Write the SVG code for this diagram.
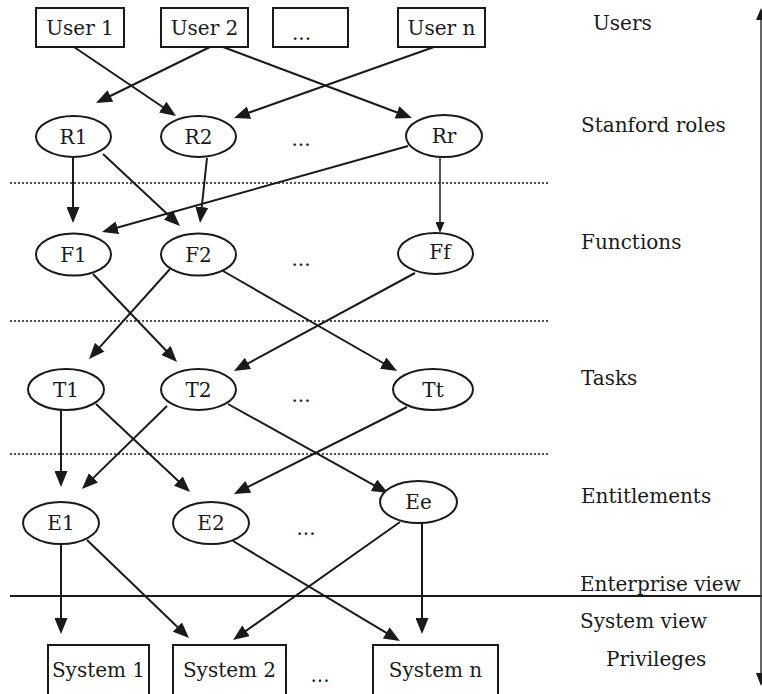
<svg xmlns="http://www.w3.org/2000/svg" width="762" height="694" viewBox="0 0 762 694">
<style>
text{font-family:"DejaVu Serif","Liberation Serif",serif;font-size:20px;fill:#1a1a1a}
.n text{text-anchor:middle}
.box{fill:#fff;stroke:#1a1a1a;stroke-width:2}
.ell{fill:#fff;stroke:#1a1a1a;stroke-width:2}
.e{stroke:#1a1a1a;stroke-width:2;fill:none;marker-end:url(#ah)}
.et{stroke:#1a1a1a;stroke-width:1.5;fill:none;marker-end:url(#ahs)}
.dot{stroke:#1a1a1a;stroke-width:1.5;stroke-dasharray:2 2}
</style>
<defs>
<marker id="ah" markerUnits="userSpaceOnUse" markerWidth="16" markerHeight="13" refX="8" refY="6.5" orient="auto"><path d="M0,0 L16,6.5 L0,13 z" fill="#1a1a1a"/></marker>
<marker id="ahs" markerUnits="userSpaceOnUse" markerWidth="11" markerHeight="9" refX="5" refY="4.5" orient="auto"><path d="M0,0 L11,4.5 L0,9 z" fill="#1a1a1a"/></marker>
</defs>
<rect width="762" height="694" fill="#fff"/>
<g id="separators">
<line class="dot" x1="10" y1="183" x2="548" y2="183"/>
<line class="dot" x1="10" y1="321" x2="548" y2="321"/>
<line class="dot" x1="10" y1="454" x2="548" y2="454"/>
<line x1="10" y1="596" x2="762" y2="596" stroke="#1a1a1a" stroke-width="2"/>
</g>
<g id="axis">
<line x1="761" y1="14" x2="761" y2="680" stroke="#333" stroke-width="1.5"/>
<polygon points="761,8 756,20 766,20" fill="#1a1a1a"/>
<polygon points="761,686 756,673 766,673" fill="#1a1a1a"/>
</g>
<g id="layer-labels">
<text x="593" y="30">Users</text>
<text x="581" y="132">Stanford roles</text>
<text x="581" y="249">Functions</text>
<text x="581" y="385">Tasks</text>
<text x="581" y="503">Entitlements</text>
<text x="580" y="591">Enterprise view</text>
<text x="580" y="628">System view</text>
<text x="606" y="666">Privileges</text>
</g>
<g id="connectors">
<line class="e" x1="74" y1="47" x2="169.4" y2="111.5"/>
<line class="e" x1="210" y1="47" x2="103.2" y2="99.5"/>
<line class="e" x1="223" y1="47" x2="404.5" y2="115.2"/>
<line class="e" x1="434" y1="47" x2="241.5" y2="115.3"/>
<line class="e" x1="73" y1="158" x2="73" y2="215"/>
<line class="e" x1="103" y1="154" x2="174.2" y2="220.5"/>
<line class="e" x1="207" y1="158" x2="200.9" y2="215"/>
<line class="e" x1="408" y1="146" x2="109.7" y2="229.8"/>
<line class="et" x1="440" y1="158" x2="440" y2="227"/>
<line class="e" x1="93" y1="274" x2="171.5" y2="356.2"/>
<line class="e" x1="170" y1="269" x2="94.4" y2="353.1"/>
<line class="e" x1="223" y1="271" x2="390.1" y2="367"/>
<line class="e" x1="415" y1="273" x2="241" y2="367.2"/>
<line class="e" x1="61" y1="410" x2="61" y2="479"/>
<line class="e" x1="96" y1="404" x2="184.2" y2="486.5"/>
<line class="e" x1="167" y1="406" x2="87.7" y2="483.4"/>
<line class="e" x1="228" y1="404" x2="381" y2="489.1"/>
<line class="e" x1="407" y1="407" x2="241.1" y2="490.4"/>
<line class="e" x1="61" y1="544" x2="61" y2="626"/>
<line class="e" x1="87" y1="540" x2="183.2" y2="632.5"/>
<line class="e" x1="233" y1="541" x2="393.1" y2="636.9"/>
<line class="e" x1="400" y1="522" x2="239.5" y2="635.4"/>
<line class="e" x1="422" y1="523" x2="422" y2="626"/>
</g>
<g id="user1" class="n"><rect class="box" x="36" y="8" width="88" height="39"/><text x="80" y="35">User 1</text></g>
<g id="user2" class="n"><rect class="box" x="161" y="8" width="87" height="39"/><text x="204.5" y="35">User 2</text></g>
<g id="user-more" class="n"><rect class="box" x="273" y="8" width="75" height="39"/><text x="292" y="40" style="text-anchor:start">...</text></g>
<g id="usern" class="n"><rect class="box" x="398" y="8" width="87" height="39"/><text x="441.5" y="35">User n</text></g>
<g id="r1" class="n"><ellipse class="ell" cx="73.5" cy="136.5" rx="37.5" ry="20.5"/><text x="73.5" y="144">R1</text></g>
<g id="r2" class="n"><ellipse class="ell" cx="198.5" cy="136.5" rx="37.5" ry="20.5"/><text x="198.5" y="144">R2</text></g>
<g id="r-more" class="n"><text x="301" y="146">...</text></g>
<g id="rr" class="n"><ellipse class="ell" cx="444" cy="136" rx="38" ry="21"/><text x="444" y="143">Rr</text></g>
<g id="f1" class="n"><ellipse class="ell" cx="73.5" cy="254.5" rx="37.5" ry="21"/><text x="73.5" y="262">F1</text></g>
<g id="f2" class="n"><ellipse class="ell" cx="198.5" cy="254.5" rx="37.5" ry="21"/><text x="198.5" y="262">F2</text></g>
<g id="f-more" class="n"><text x="301" y="266">...</text></g>
<g id="ff" class="n"><ellipse class="ell" cx="435.5" cy="253.5" rx="37.5" ry="20.5"/><text x="440" y="259">Ff</text></g>
<g id="t1" class="n"><ellipse class="ell" cx="66" cy="389.5" rx="38" ry="20.5"/><text x="66" y="397">T1</text></g>
<g id="t2" class="n"><ellipse class="ell" cx="198.5" cy="389.5" rx="37.5" ry="20.5"/><text x="198.5" y="397">T2</text></g>
<g id="t-more" class="n"><text x="301" y="402">...</text></g>
<g id="tt" class="n"><ellipse class="ell" cx="433" cy="389.5" rx="40" ry="20.5"/><text x="433" y="397">Tt</text></g>
<g id="e1" class="n"><ellipse class="ell" cx="61" cy="523" rx="38" ry="21"/><text x="61" y="530">E1</text></g>
<g id="e2" class="n"><ellipse class="ell" cx="211" cy="523" rx="38" ry="21"/><text x="211" y="530">E2</text></g>
<g id="e-more" class="n"><text x="306" y="535">...</text></g>
<g id="ee" class="n"><ellipse class="ell" cx="418.5" cy="502" rx="38.5" ry="21"/><text x="418.5" y="509">Ee</text></g>
<g id="system1" class="n"><rect class="box" x="48" y="645" width="101" height="60"/><text x="98.5" y="677">System 1</text></g>
<g id="system2" class="n"><rect class="box" x="173" y="645" width="113" height="60"/><text x="229.5" y="677">System 2</text></g>
<g id="system-more" class="n"><text x="320" y="682">...</text></g>
<g id="systemn" class="n"><rect class="box" x="373" y="645" width="125" height="60"/><text x="435.5" y="677">System n</text></g>
</svg>
